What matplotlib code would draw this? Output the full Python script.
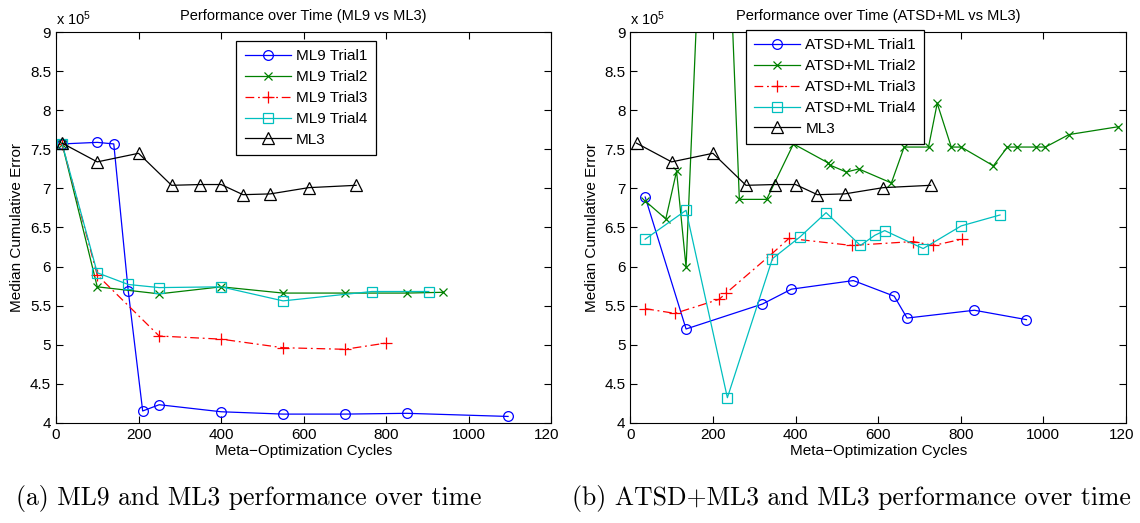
import matplotlib
matplotlib.use("Agg")
import matplotlib.pyplot as plt
import matplotlib.transforms as mtransforms
from matplotlib.ticker import FormatStrFormatter

plt.rcParams['font.family'] = ['Liberation Sans', 'DejaVu Sans']
plt.rcParams['mathtext.default'] = 'regular'

# values in units of 1e5
ml3_x = [15, 100, 200, 280, 350, 400, 453, 519, 612, 727]
ml3_y = [7.58, 7.34, 7.45, 7.04, 7.05, 7.05, 6.92, 6.93, 7.01, 7.04]

ml9_t1_x = [15, 100, 140, 175, 210, 250, 400, 550, 700, 850, 1095]
ml9_t1_y = [7.57, 7.59, 7.57, 5.69, 4.15, 4.23, 4.14, 4.11, 4.11, 4.12, 4.08]
ml9_t2_x = [15, 100, 250, 400, 550, 700, 850, 938]
ml9_t2_y = [7.57, 5.74, 5.65, 5.74, 5.66, 5.66, 5.66, 5.67]
ml9_t3_x = [15, 100, 250, 400, 550, 700, 800]
ml9_t3_y = [7.57, 5.89, 5.11, 5.07, 4.96, 4.94, 5.02]
ml9_t4_x = [15, 100, 175, 250, 400, 550, 765, 903]
ml9_t4_y = [7.57, 5.92, 5.77, 5.73, 5.74, 5.56, 5.68, 5.68]

atsd_t1_x = [36, 135, 320, 390, 540, 639, 670, 833, 959]
atsd_t1_y = [6.89, 5.20, 5.52, 5.71, 5.82, 5.62, 5.34, 5.44, 5.32]
atsd_t2_x = [36, 86, 112, 135, 205, 264, 330, 395, 478, 483, 523, 553, 632, 663,
             722, 743, 777, 801, 879, 913, 936, 983, 1005, 1062, 1181]
atsd_t2_y = [6.84, 6.61, 7.22, 5.99, 14.8, 6.86, 6.86, 7.57, 7.33, 7.30, 7.21, 7.25,
             7.07, 7.53, 7.53, 8.09, 7.53, 7.53, 7.29, 7.53, 7.53, 7.53, 7.53, 7.69, 7.79]
atsd_t3_x = [36, 108, 215, 232, 342, 384, 536, 685, 734, 803]
atsd_t3_y = [5.46, 5.40, 5.58, 5.66, 6.16, 6.36, 6.27, 6.32, 6.27, 6.35]
atsd_t4_x = [36, 135, 235, 344, 411, 474, 557, 592, 616, 709, 801, 895]
atsd_t4_y = [6.35, 6.72, 4.32, 6.10, 6.38, 6.69, 6.27, 6.40, 6.46, 6.23, 6.52, 6.66]

xticks = [0, 200, 400, 600, 800, 1000, 1200]
xtick_labels = ['0', '200', '400', '600', '800', '1000', '120']
yticks = [4, 4.5, 5, 5.5, 6, 6.5, 7, 7.5, 8, 8.5, 9]

blue = (0, 0, 1)
green = (0, 0.5, 0)
red = (1, 0, 0)
cyan = (0, 0.75, 0.75)
dashdot = (0, (7, 3, 1.5, 3))

fig = plt.figure(figsize=(11.4, 5.23), dpi=100)
ax1 = fig.add_axes([0.0491, 0.1918, 0.4346, 0.7465])
ax2 = fig.add_axes([0.5529, 0.1918, 0.4348, 0.7465])


def style(ax, title):
    ax.set_xlim(0, 1200)
    ax.set_ylim(4, 9)
    ax.set_xticks(xticks)
    ax.set_xticklabels(xtick_labels)
    ax.set_yticks(yticks)
    ax.yaxis.set_major_formatter(FormatStrFormatter('%g'))
    ax.tick_params(direction='in', top=True, right=True, labelsize=11, length=5)
    # the last label is the clipped "1200" of the original
    last = ax.get_xticklabels()[-1]
    last.set_transform(last.get_transform() +
                       mtransforms.ScaledTranslation(-0.045, 0, fig.dpi_scale_trans))
    ax.set_xlabel('Meta\u2212Optimization Cycles', fontsize=11, labelpad=2)
    ax.set_ylabel('Median Cumulative Error', fontsize=11, labelpad=4)
    ax.set_title(title, fontsize=10.5, pad=9)
    ax.text(0.0, 1.012, 'x 10$^5$', transform=ax.transAxes, fontsize=10.5,
            ha='left', va='bottom')
    for s in ax.spines.values():
        s.set_linewidth(0.8)


def add_legend(ax, anchor):
    leg = ax.legend(loc='upper left', bbox_to_anchor=anchor, borderaxespad=0,
                    fontsize=11, fancybox=False, edgecolor='black', framealpha=1,
                    handlelength=3.0, borderpad=0.55, labelspacing=0.45,
                    handletextpad=0.35)
    leg.get_frame().set_linewidth(0.9)


mk = dict(markerfacecolor='none', markersize=7, linewidth=0.9, markeredgewidth=0.9)
mkx = dict(markerfacecolor='none', markersize=6, linewidth=0.9, markeredgewidth=0.9)
mkp = dict(markersize=9, linewidth=0.9, markeredgewidth=0.9)
mkt = dict(markerfacecolor='none', markersize=9, linewidth=0.9, markeredgewidth=0.9)

ax1.plot(ml9_t1_x, ml9_t1_y, '-', marker='o', color=blue, label='ML9 Trial1', **mk)
ax1.plot(ml9_t2_x, ml9_t2_y, '-', marker='x', color=green, label='ML9 Trial2', **mkx)
ax1.plot(ml9_t3_x, ml9_t3_y, linestyle=dashdot, marker='+', color=red, label='ML9 Trial3', **mkp)
ax1.plot(ml9_t4_x, ml9_t4_y, '-', marker='s', color=cyan, label='ML9 Trial4', **mk)
ax1.plot(ml3_x, ml3_y, '-', marker='^', color='black', label='ML3', **mkt)
style(ax1, 'Performance over Time (ML9 vs ML3)')
add_legend(ax1, (0.364, 0.978))

ax2.plot(atsd_t1_x, atsd_t1_y, '-', marker='o', color=blue, label='ATSD+ML Trial1', **mk)
ax2.plot(atsd_t2_x, atsd_t2_y, '-', marker='x', color=green, label='ATSD+ML Trial2', **mkx)
ax2.plot(atsd_t3_x, atsd_t3_y, linestyle=dashdot, marker='+', color=red, label='ATSD+ML Trial3', **mkp)
ax2.plot(atsd_t4_x, atsd_t4_y, '-', marker='s', color=cyan, label='ATSD+ML Trial4', **mk)
ax2.plot(ml3_x, ml3_y, '-', marker='^', color='black', label='ML3', **mkt)
style(ax2, 'Performance over Time (ATSD+ML vs ML3)')
add_legend(ax2, (0.233, 1.006))

fig.text(0.218, 0.035, '(a) ML9 and ML3 performance over time', fontsize=18.5,
         family=['cmr10', 'DejaVu Serif'], ha='center', va='baseline')
fig.text(0.747, 0.035, '(b) ATSD+ML3 and ML3 performance over time', fontsize=18.5,
         family=['cmr10', 'DejaVu Serif'], ha='center', va='baseline')

fig.savefig('out.png', dpi=100)
